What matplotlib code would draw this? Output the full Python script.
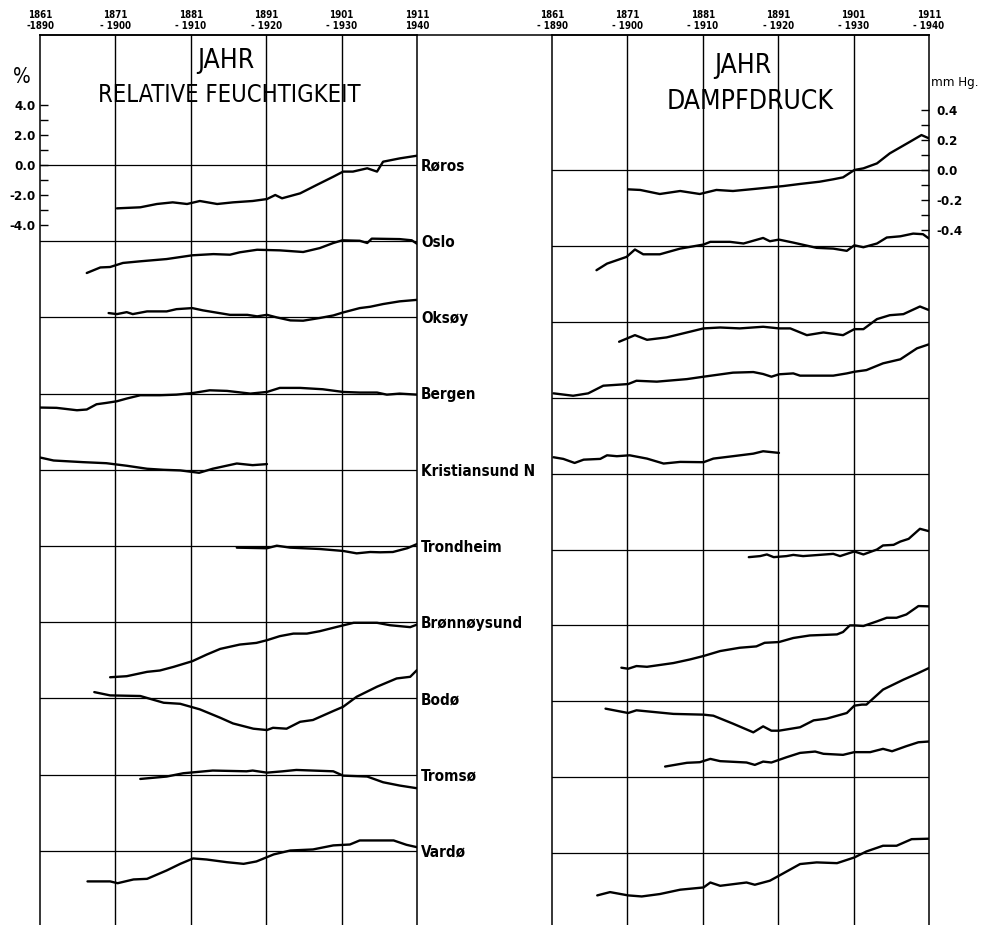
import matplotlib
matplotlib.use('Agg')
import matplotlib.pyplot as plt
import numpy as np

#%% dados (JAHR, 30-jaehrige Mittel 1861-1890 ... 1911-1940)

estacoes = ['Røros', 'Oslo', 'Oksøy', 'Bergen', 'Kristiansund N', 'Trondheim',
            'Brønnøysund', 'Bodø', 'Tromsø', 'Vardø']

decadas = [1861, 1871, 1881, 1891, 1901, 1911]
rotulos_esq = ['1861\n-1890', '1871\n- 1900', '1881\n- 1910', '1891\n- 1920', '1901\n- 1930', '1911\n1940']
rotulos_dir = ['1861\n- 1890', '1871\n- 1900', '1881\n- 1910', '1891\n- 1920', '1901\n- 1930', '1911\n- 1940']

# Relative Feuchtigkeit (%) - desvio em relacao a 1911-1940
rf_roros_anos = [1871.2, 1874.3, 1876.5, 1878.6, 1880.5, 1882.2, 1884.5, 1886.6, 1889.2, 1891.1, 1892.2, 1893.1,
                 1895.5, 1897.7, 1899.9, 1901.2, 1902.5, 1904.4, 1905.7, 1906.5, 1908.7, 1911]
rf_roros = [-2.89, -2.82, -2.6, -2.49, -2.6, -2.4, -2.6, -2.49, -2.4, -2.27, -2.0, -2.22,
            -1.89, -1.33, -0.78, -0.44, -0.44, -0.22, -0.44, 0.22, 0.44, 0.62]

rf_oslo_anos = [1867.2, 1869, 1870.3, 1872, 1874.3, 1877.8, 1881.2, 1884, 1886.2, 1887.5, 1889.8, 1892.8,
                1895.9, 1898.1, 1899.9, 1901.1, 1903.4, 1904.4, 1905, 1908.7, 1910.3, 1911]
rf_oslo = [-2.12, -1.75, -1.72, -1.45, -1.34, -1.19, -0.94, -0.86, -0.9, -0.74, -0.57, -0.61,
           -0.72, -0.46, -0.12, 0.06, 0.03, -0.12, 0.17, 0.14, 0.06, -0.17]

rf_oksoy_anos = [1870.1, 1871.2, 1872.5, 1873.3, 1875.2, 1877.8, 1879.1, 1881.2, 1882.6, 1886.2, 1888.5, 1889.8,
                 1891.1, 1892.4, 1894.2, 1895.9, 1898.1, 1899.9, 1901.2, 1903.4, 1904.8, 1906.5, 1908.7, 1911]
rf_oksoy = [0.29, 0.22, 0.35, 0.22, 0.4, 0.4, 0.55, 0.62, 0.47, 0.17, 0.17, 0.07,
            0.17, 0.0, -0.2, -0.22, -0.04, 0.13, 0.33, 0.62, 0.71, 0.89, 1.07, 1.17]

rf_bergen_anos = [1861, 1863.2, 1865.9, 1867.2, 1868.5, 1869.8, 1871.2, 1872.5, 1874.3, 1876.9, 1879.1, 1881.3,
                  1883.5, 1885.8, 1888.9, 1891.1, 1892.8, 1895.5, 1898.5, 1901.2, 1903.4, 1905.7, 1907, 1908.7, 1911]
rf_bergen = [-0.93, -0.95, -1.11, -1.06, -0.71, -0.62, -0.51, -0.33, -0.11, -0.11, -0.07, 0.04,
             0.22, 0.18, 0.0, 0.11, 0.38, 0.38, 0.29, 0.11, 0.07, 0.07, -0.07, 0.0, -0.07]

rf_kristiansund_anos = [1861, 1862.8, 1866.7, 1869.8, 1872.5, 1875.2, 1877.4, 1879.6, 1882.1, 1883.9, 1887.1,
                        1889.2, 1891.1]
rf_kristiansund = [0.82, 0.62, 0.51, 0.44, 0.27, 0.07, 0.0, -0.04, -0.2, 0.07, 0.42, 0.31, 0.38]

rf_trondheim_anos = [1887.1, 1891.1, 1892.4, 1894.2, 1898.1, 1901.2, 1903, 1904.8, 1906.1, 1907.8, 1909.7, 1911]
rf_trondheim = [-0.11, -0.15, 0.02, -0.11, -0.2, -0.33, -0.49, -0.4, -0.42, -0.4, -0.15, 0.13]

rf_bronnoysund_anos = [1870.3, 1872.5, 1875.2, 1876.9, 1878.7, 1881.2, 1883.1, 1884.9, 1887.5, 1889.7, 1891.1,
                       1892.8, 1894.6, 1896.4, 1898.1, 1900.4, 1902.6, 1905.7, 1907.4, 1910.1, 1911]
rf_bronnoysund = [-3.67, -3.6, -3.31, -3.22, -2.98, -2.6, -2.16, -1.78, -1.49, -1.38, -1.2,
                  -0.93, -0.76, -0.76, -0.6, -0.31, -0.04, -0.04, -0.2, -0.33, -0.16]

rf_bodo_anos = [1868.2, 1870.3, 1874.3, 1877.4, 1879.6, 1882.2, 1884.9, 1886.6, 1889.3, 1891.1, 1891.9,
                1893.7, 1895.5, 1897.2, 1899.9, 1901.2, 1903, 1905.7, 1908.3, 1910.1, 1911]
rf_bodo = [0.42, 0.2, 0.16, -0.29, -0.36, -0.73, -1.29, -1.67, -2.02, -2.11, -1.96,
           -2.02, -1.56, -1.44, -0.84, -0.56, 0.11, 0.78, 1.33, 1.44, 1.89]

rf_tromso_anos = [1874.3, 1877.8, 1880, 1883.9, 1888.4, 1889.2, 1891.1, 1893.2, 1895, 1899.9, 1901.2,
                  1904.4, 1906.5, 1908.7, 1911]
rf_tromso = [-0.29, -0.13, 0.09, 0.27, 0.22, 0.27, 0.13, 0.22, 0.31, 0.22, -0.07, -0.13, -0.51, -0.73, -0.91]

rf_vardo_anos = [1867.3, 1870.3, 1871.3, 1873.4, 1875.2, 1877.8, 1879.6, 1881.3, 1883.1, 1885.8, 1888,
                 1889.7, 1892, 1894.2, 1897.2, 1899.9, 1902.1, 1903.4, 1907.9, 1909.6, 1911]
rf_vardo = [-2.04, -2.04, -2.16, -1.91, -1.87, -1.31, -0.87, -0.51, -0.58, -0.76, -0.87,
            -0.71, -0.24, 0.02, 0.09, 0.36, 0.42, 0.69, 0.69, 0.4, 0.24]

# Dampfdruck (mm Hg)
dd_roros_anos = [1871.1, 1872.7, 1875.3, 1878, 1880.6, 1882.8, 1885, 1887.7, 1889.9, 1891.7, 1893.9,
                 1896.5, 1898.3, 1899.6, 1901.1, 1902.3, 1904.1, 1905.8, 1908.5, 1910, 1911]
dd_roros = [-0.129, -0.133, -0.16, -0.14, -0.16, -0.133, -0.14, -0.127, -0.116, -0.107, -0.093,
            -0.078, -0.062, -0.049, 0.0, 0.011, 0.044, 0.111, 0.189, 0.233, 0.211]

dd_oslo_anos = [1866.9, 1868.3, 1870.9, 1872, 1873.1, 1875.3, 1878, 1881.1, 1882, 1884.6, 1886.4, 1889, 1889.9,
                1891.1, 1893, 1896.1, 1898.3, 1900.1, 1901.1, 1902.3, 1904.1, 1905.4, 1907.2, 1908.9, 1910.2, 1911]
dd_oslo = [-0.162, -0.118, -0.073, -0.024, -0.056, -0.056, -0.018, 0.009, 0.027, 0.027, 0.016, 0.053, 0.031,
           0.042, 0.022, -0.013, -0.018, -0.033, 0.004, -0.009, 0.016, 0.056, 0.064, 0.082, 0.078, 0.049]

dd_oksoy_anos = [1869.9, 1872, 1873.6, 1876.2, 1878.9, 1881.1, 1883.3, 1885.9, 1889, 1891.1, 1892.6,
                 1894.8, 1897, 1899.6, 1901.1, 1902.3, 1904.1, 1905.8, 1907.6, 1909.8, 1911]
dd_oksoy = [-0.133, -0.089, -0.12, -0.104, -0.071, -0.044, -0.038, -0.044, -0.033, -0.044, -0.044,
            -0.089, -0.071, -0.089, -0.049, -0.049, 0.018, 0.044, 0.051, 0.102, 0.078]

dd_bergen_anos = [1861.2, 1863.8, 1865.8, 1867.8, 1871.1, 1872.2, 1874.9, 1878.9, 1881.1, 1885, 1887.7, 1889,
                  1890.1, 1891.1, 1893, 1893.9, 1898.3, 1900.1, 1901.1, 1902.7, 1904.9, 1907.2, 1909.4, 1911]
dd_bergen = [0.029, 0.013, 0.029, 0.08, 0.091, 0.113, 0.107, 0.124, 0.14, 0.167, 0.171, 0.158,
             0.14, 0.156, 0.162, 0.147, 0.147, 0.162, 0.173, 0.184, 0.229, 0.256, 0.329, 0.356]

dd_kristiansund_anos = [1861.2, 1862.5, 1864, 1865.2, 1867.4, 1868.3, 1869.6, 1871.3, 1873.6, 1875.8, 1878,
                        1881.1, 1882.4, 1885, 1887.7, 1889, 1891.1]
dd_kristiansund = [0.109, 0.098, 0.071, 0.093, 0.098, 0.122, 0.116, 0.122, 0.1, 0.067, 0.078,
                   0.076, 0.1, 0.116, 0.133, 0.149, 0.138]

dd_trondheim_anos = [1887.1, 1888.6, 1889.5, 1890.4, 1892.1, 1893, 1894.3, 1898.3, 1899.2, 1901.1, 1902.3,
                     1904.1, 1904.9, 1906.3, 1907.2, 1908.3, 1909.8, 1911]
dd_trondheim = [-0.051, -0.044, -0.033, -0.051, -0.044, -0.036, -0.044, -0.029, -0.044, -0.013, -0.033,
                0.0, 0.027, 0.031, 0.053, 0.071, 0.138, 0.122]

dd_bronnoysund_anos = [1870.2, 1871.1, 1872.2, 1873.6, 1877.1, 1879.3, 1881.1, 1883.3, 1885.9, 1888.1, 1889.2,
                       1891.1, 1893, 1895.2, 1898.8, 1899.6, 1900.5, 1901.1, 1902.3, 1904.1, 1905.4, 1906.7,
                       1908, 1909.6, 1911]
dd_bronnoysund = [-0.282, -0.289, -0.271, -0.276, -0.251, -0.227, -0.204, -0.171, -0.149, -0.14, -0.116,
                  -0.111, -0.084, -0.067, -0.06, -0.044, 0.0, 0.0, -0.004, 0.027, 0.051, 0.051,
                  0.073, 0.129, 0.127]

dd_bodo_anos = [1868.1, 1871.1, 1872.2, 1877.1, 1881.1, 1882.4, 1885, 1887.7, 1889, 1890.1, 1891.1,
                1893.9, 1895.7, 1897.4, 1900.1, 1901.1, 1902.1, 1902.7, 1904.9, 1907.6, 1909.4, 1911]
dd_bodo = [-0.049, -0.078, -0.06, -0.084, -0.089, -0.096, -0.149, -0.207, -0.167, -0.196, -0.196,
           -0.173, -0.127, -0.116, -0.078, -0.029, -0.022, -0.022, 0.078, 0.144, 0.184, 0.222]

dd_tromso_anos = [1876, 1878.9, 1880.6, 1882, 1883.3, 1886.8, 1887.9, 1889, 1890.1, 1892.1, 1893.9,
                  1895.9, 1897, 1899.6, 1901.1, 1903.2, 1904.9, 1906.1, 1908, 1909.6, 1911]
dd_tromso = [0.071, 0.096, 0.1, 0.122, 0.107, 0.098, 0.082, 0.104, 0.098, 0.133, 0.162,
             0.171, 0.156, 0.149, 0.167, 0.167, 0.189, 0.173, 0.207, 0.233, 0.238]

dd_vardo_anos = [1867, 1868.7, 1871.1, 1872.9, 1875.3, 1878, 1881.1, 1882, 1883.3, 1886.8, 1887.9,
                 1889.9, 1891.1, 1893.9, 1896.1, 1898.8, 1901.1, 1902.7, 1904.9, 1906.7, 1908.7, 1911]
dd_vardo = [-0.282, -0.26, -0.282, -0.289, -0.273, -0.244, -0.229, -0.196, -0.218, -0.196, -0.211,
            -0.184, -0.151, -0.073, -0.062, -0.067, -0.029, 0.011, 0.049, 0.049, 0.093, 0.096]

rf_series = [(rf_roros_anos, rf_roros), (rf_oslo_anos, rf_oslo), (rf_oksoy_anos, rf_oksoy),
             (rf_bergen_anos, rf_bergen), (rf_kristiansund_anos, rf_kristiansund),
             (rf_trondheim_anos, rf_trondheim), (rf_bronnoysund_anos, rf_bronnoysund),
             (rf_bodo_anos, rf_bodo), (rf_tromso_anos, rf_tromso), (rf_vardo_anos, rf_vardo)]
dd_series = [(dd_roros_anos, dd_roros), (dd_oslo_anos, dd_oslo), (dd_oksoy_anos, dd_oksoy),
             (dd_bergen_anos, dd_bergen), (dd_kristiansund_anos, dd_kristiansund),
             (dd_trondheim_anos, dd_trondheim), (dd_bronnoysund_anos, dd_bronnoysund),
             (dd_bodo_anos, dd_bodo), (dd_tromso_anos, dd_tromso), (dd_vardo_anos, dd_vardo)]

#%% layout (pixels da figura original)
W, H = 986, 925
fonte = 'DejaVu Sans'
estreita = dict(family=fonte, stretch='condensed')
passo_rf = 5.08    # distancia entre as linhas base (%)
passo_dd = 0.506   # (mm Hg)

fig = plt.figure(figsize=(W / 100, H / 100), dpi=100)
fig.patch.set_facecolor('white')

topo = 35
ax1 = fig.add_axes([40 / W, 0, 377 / W, 1 - topo / H])
ax2 = fig.add_axes([552 / W, 0, 377 / W, 1 - topo / H])
ax2.patch.set_visible(False)
ax1.set_zorder(2)
ax1.patch.set_visible(False)

# escala: 15 px por 1 % / 15 px por 0.1 mm Hg
ax1.set_ylim(-(H - 165) / 15, (165 - topo) / 15)
ax2.set_ylim(-(H - 170) / 150, (170 - topo) / 150)

for ax, rot in [(ax1, rotulos_esq), (ax2, rotulos_dir)]:
    ax.set_xlim(decadas[0], decadas[-1])
    ax.spines['bottom'].set_visible(False)
    for s in ['left', 'right', 'top']:
        ax.spines[s].set_linewidth(1.1)
    for d in decadas[1:-1]:
        ax.axvline(d, color='black', lw=1.0)
    ax.xaxis.tick_top()
    ax.set_xticks(decadas)
    ax.set_xticklabels(rot, fontsize=7, fontweight='bold', linespacing=1.05, **estreita)
    ax.tick_params(axis='x', length=0, pad=3)

# curvas
for i, (anos, vals) in enumerate(rf_series):
    base = -i * passo_rf
    ax1.axhline(base, color='black', lw=0.9)
    ax1.plot(anos, np.array(vals) + base, color='black', lw=1.7, solid_capstyle='round')
    ax1.annotate(estacoes[i], xy=(decadas[-1], base), xytext=(3, -1), textcoords='offset points',
                 ha='left', va='center', fontsize=11, fontweight='bold', annotation_clip=False,
                 **estreita)

for i, (anos, vals) in enumerate(dd_series):
    base = -i * passo_dd
    ax2.axhline(base, color='black', lw=0.9)
    ax2.plot(anos, np.array(vals) + base, color='black', lw=1.7, solid_capstyle='round')

# eixos y
ax1.set_yticks([-4, -2, 0, 2, 4])
ax1.set_yticklabels(['-4.0', '-2.0', '0.0', '2.0', '4.0'], fontsize=9.5, fontweight='bold', **estreita)
ax1.set_yticks([-3, -1, 1, 3], minor=True)
ax1.tick_params(axis='y', which='both', direction='in', length=6, width=1, pad=3)

ax2.yaxis.tick_right()
ax2.set_yticks([-0.4, -0.2, 0, 0.2, 0.4])
ax2.set_yticklabels(['-0.4', '-0.2', '0.0', '0.2', '0.4'], fontsize=9.5, fontweight='bold', **estreita)
ax2.set_yticks([-0.3, -0.1, 0.1, 0.3], minor=True)
ax2.tick_params(axis='y', which='both', direction='in', length=6, width=1, pad=5)

# linha superior continua entre os dois paineis
p1, p2 = ax1.get_position(), ax2.get_position()
ax1.plot([0, (p2.x1 - p1.x0) / p1.width], [1, 1], transform=ax1.transAxes, clip_on=False,
         color='black', lw=1.1)

# titulos
ax1.text(0.493, 0.971, 'JAHR', transform=ax1.transAxes, ha='center', va='center',
         fontsize=19, **estreita)
ax1.text(0.501, 0.933, 'RELATIVE FEUCHTIGKEIT', transform=ax1.transAxes, ha='center', va='center',
         fontsize=17, **estreita)
ax2.text(0.507, 0.965, 'JAHR', transform=ax2.transAxes, ha='center', va='center',
         fontsize=19, **estreita)
ax2.text(0.525, 0.925, 'DAMPFDRUCK', transform=ax2.transAxes, ha='center', va='center',
         fontsize=19, **estreita)

ax1.text(-0.048, 0.953, '%', transform=ax1.transAxes, ha='center', va='center',
         fontsize=15, **estreita)
ax2.text(1.006, 0.947, 'mm Hg.', transform=ax2.transAxes, ha='left', va='center',
         fontsize=9.5, **estreita)

plt.savefig('out.png', dpi=100, facecolor='white')
